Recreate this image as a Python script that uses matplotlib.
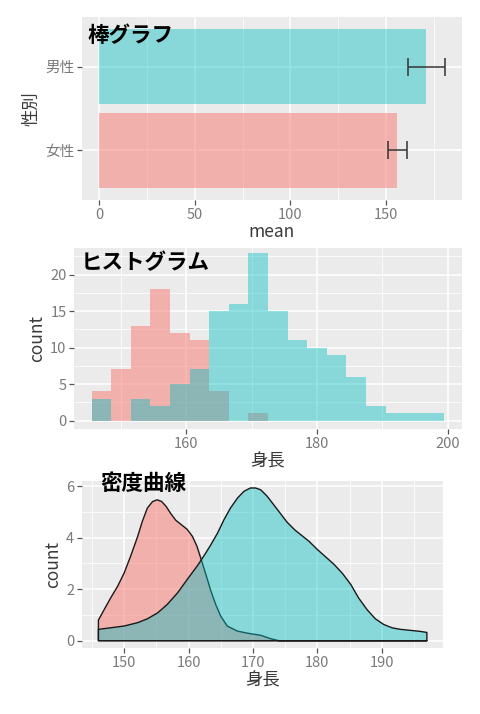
import numpy as np
import matplotlib

matplotlib.use("Agg")
import matplotlib.pyplot as plt  # noqa: E402
from matplotlib.colors import to_rgba  # noqa: E402

plt.rcParams["font.family"] = ["Noto Sans CJK JP", "DejaVu Sans"]

RED = "#F8766D"
TEAL = "#00BFC4"
BG = "#EBEBEB"
TICK_C = "#7A7A7A"
LAB_C = "#3A3A3A"

# --- bar chart: mean height +- sd by sex
SEX = ["女性", "男性"]
MEAN = [155.9, 171.2]
SD = [5.0, 9.5]

# --- histogram (binwidth 3)
BIN_START = 145.5
BIN_W = 3.0
COUNT_F = [4, 7, 13, 18, 12, 11, 4, 0, 1, 0, 0, 0, 0, 0, 0, 0, 0, 0]
COUNT_M = [3, 0, 3, 2, 5, 7, 15, 16, 23, 15, 11, 10, 9, 6, 2, 1, 1, 1]

# --- density curves (y = count scale)
DENS_F_X = [146.0, 146.9, 147.9, 149.0, 150.0, 151.0, 152.1, 152.8, 153.6,
            154.4, 155.1, 155.8, 156.5, 157.2, 158.0, 158.8, 159.8, 160.6,
            161.3, 161.9, 162.4, 162.9, 163.4, 164.2, 165.0, 166.0, 167.6,
            169.4, 171.2, 172.7, 174.0, 197.0]
DENS_F_Y = [0.80, 1.21, 1.66, 2.12, 2.63, 3.28, 4.05, 4.62, 5.15,
            5.40, 5.47, 5.41, 5.22, 4.95, 4.68, 4.52, 4.32, 4.05,
            3.67, 3.20, 2.80, 2.40, 1.98, 1.41, 0.95, 0.57, 0.37,
            0.28, 0.21, 0.08, 0.0, 0.0]
DENS_M_X = [146.0, 147.9, 150.0, 152.1, 153.6, 155.2, 156.7, 158.3, 159.8,
            161.4, 162.4, 163.4, 164.5, 165.5, 166.5, 167.6, 168.6, 169.6,
            170.4, 171.2, 172.2, 173.8, 175.3, 176.5, 177.4, 178.7, 180.0,
            181.3, 182.6, 183.9, 185.2, 186.4, 187.7, 189.0, 190.3, 191.6,
            192.9, 194.5, 196.0, 197.0]
DENS_M_Y = [0.44, 0.50, 0.57, 0.70, 0.85, 1.08, 1.41, 1.86, 2.38,
            2.92, 3.30, 3.70, 4.18, 4.70, 5.15, 5.54, 5.80, 5.93,
            5.93, 5.86, 5.61, 5.09, 4.60, 4.30, 4.12, 3.86, 3.54,
            3.25, 2.96, 2.61, 2.18, 1.66, 1.21, 0.85, 0.63, 0.50,
            0.44, 0.40, 0.36, 0.32]


def _style(ax, xmajor, xminor, ymajor=None, yminor=None):
    ax.set_facecolor(BG)
    for s in ax.spines.values():
        s.set_visible(False)
    ax.set_xticks(xmajor)
    ax.set_xticks(xminor, minor=True)
    if ymajor is not None:
        ax.set_yticks(ymajor)
    if yminor is not None:
        ax.set_yticks(yminor, minor=True)
    ax.grid(True, which="major", color="white", linewidth=1.1)
    ax.grid(True, which="minor", color="white", linewidth=0.55)
    ax.set_axisbelow(True)
    ax.tick_params(which="major", length=3.5, width=0.9, color="#555555",
                   labelcolor=TICK_C, labelsize=10.5, pad=2)
    ax.tick_params(which="minor", length=0)


fig = plt.figure(figsize=(4.8, 7.14), dpi=100)

# ---- panel 1: bars
ax1 = fig.add_axes([0.1708, 0.7199, 0.7917, 0.2563])
_style(ax1, [0, 50, 100, 150], [25, 75, 125, 175])
ypos = np.arange(len(SEX))
ax1.barh(ypos, MEAN, height=0.9, color=[to_rgba(RED, 0.5), to_rgba(TEAL, 0.42)])
ax1.errorbar(MEAN, ypos, xerr=SD, fmt="none", ecolor="#333333",
             elinewidth=1.1, capsize=6.5, capthick=1.1)
ax1.set_yticks(ypos)
ax1.set_yticklabels(SEX)
ax1.set_xlim(-9.0, 189.8)
ax1.set_ylim(-0.6, 1.6)
ax1.grid(False, axis="y", which="minor")
ax1.set_xlabel("mean", fontsize=12.5, color=LAB_C, labelpad=1)
ax1.set_ylabel("性別", fontsize=12.5, color=LAB_C, labelpad=3)

# ---- panel 2: histogram
ax2 = fig.add_axes([0.1542, 0.3987, 0.8083, 0.2535])
_style(ax2, [160, 180, 200], [150, 170, 190],
       [0, 5, 10, 15, 20], [2.5, 7.5, 12.5, 17.5, 22.5])
edges = BIN_START + BIN_W * np.arange(len(COUNT_F) + 1)
ax2.stairs(COUNT_F, edges, fill=True, color=to_rgba(RED, 0.5), baseline=0)
ax2.stairs(COUNT_M, edges, fill=True, color=to_rgba(TEAL, 0.42), baseline=0)
ax2.set_xlim(142.8, 202.2)
ax2.set_ylim(-1.2, 23.6)
ax2.set_xlabel("身長", fontsize=12.5, color=LAB_C, labelpad=1)
ax2.set_ylabel("count", fontsize=12.5, color=LAB_C, labelpad=3)

# ---- panel 3: density
ax3 = fig.add_axes([0.1708, 0.0920, 0.7527, 0.2343])
_style(ax3, [150, 160, 170, 180, 190], [145, 155, 165, 175, 185, 195],
       [0, 2, 4, 6], [1, 3, 5])
for xs, ys, col, a in ((DENS_F_X, DENS_F_Y, RED, 0.5),
                       (DENS_M_X, DENS_M_Y, TEAL, 0.42)):
    px = np.concatenate([[xs[0]], xs, [xs[-1]]])
    py = np.concatenate([[0.0], ys, [0.0]])
    ax3.fill(px, py, facecolor=to_rgba(col, a), edgecolor="#1a1a1a",
             linewidth=1.0, closed=True, joinstyle="round")
ax3.set_xlim(143.45, 199.55)
ax3.set_ylim(-0.296, 6.2)
ax3.set_xlabel("身長", fontsize=12.5, color=LAB_C, labelpad=1)
ax3.set_ylabel("count", fontsize=12.5, color=LAB_C, labelpad=3)

# ---- overlay titles
fig.text(88 / 480, 1 - 35 / 714, "棒グラフ", fontsize=15.5, fontweight="bold",
         va="center", ha="left")
fig.text(81 / 480, 1 - 263 / 714, "ヒストグラム", fontsize=15.5,
         fontweight="bold", va="center", ha="left")
fig.text(100 / 480, 1 - 484 / 714, "密度曲線", fontsize=15.5, fontweight="bold",
         va="center", ha="left")

fig.savefig("out.png", dpi=100)
